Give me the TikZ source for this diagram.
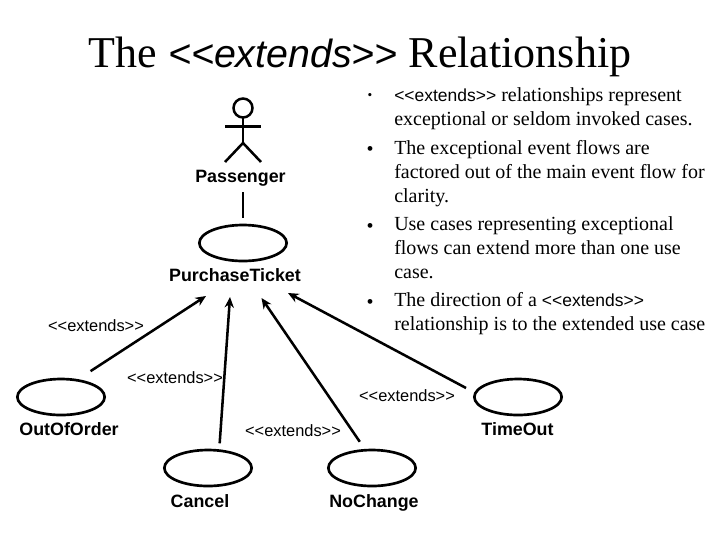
\documentclass[tikz,border=0pt]{standalone}
\usepackage{fontspec}
\setmainfont{Liberation Serif}
\setsansfont{Liberation Sans}
\usetikzlibrary{arrows.meta,shapes.geometric}
\tikzset{
  usecase/.style={draw=black,line width=2pt,ellipse,minimum width=65.5pt,minimum height=27pt,inner sep=0pt},
  casename/.style={font=\fontsize{13.4pt}{15pt}\selectfont\sffamily\bfseries,inner sep=0pt,anchor=base},
  rel/.style={font=\fontsize{12.3pt}{15pt}\selectfont\sffamily,inner sep=0pt,anchor=base},
  extendarrow/.style={line width=1.9pt,-{Stealth[length=8pt,width=7pt]}},
  stick/.style={line width=1.9pt},
  bullettext/.style={font=\fontsize{15pt}{18pt}\selectfont,inner sep=0pt,anchor=north west,align=left},
  dotmark/.style={font=\fontsize{15pt}{18pt}\selectfont,inner sep=0pt}
}
\newcommand{\extword}{<{}<{}extends>{}>}
\newcommand{\ext}{{\fontsize{13.1pt}{18pt}\selectfont\sffamily\extword}}
\begin{document}
\begin{tikzpicture}[x=0.75pt,y=-0.75pt]
\path[use as bounding box,fill=white] (0,0) rectangle (720,540);
\node[inner sep=0pt,anchor=base,font=\fontsize{33pt}{38pt}\selectfont] (title) at (360,67) {The {\sffamily\itshape\fontsize{29.5pt}{38pt}\selectfont \extword} Relationship};

% actor
\draw[stick] (243,108) circle (9.5);
\draw[stick] (243,118) -- (243,143);
\draw[stick] (225,126.5) -- (261,126.5);
\draw[stick] (225,162) -- (243,143) -- (261,162);
\node[casename] (passenger) at (240.5,182) {Passenger};
\node[usecase] (ticket) at (243,243) {};
\node[casename] (ticketname) at (235,281.5) {PurchaseTicket};
\node[usecase] (outoforder) at (61,397) {};
\node[casename] (outofordername) at (69,435) {OutOfOrder};
\node[usecase] (cancel) at (208,468) {};
\node[casename] (cancelname) at (200,507) {Cancel};
\node[usecase] (nochange) at (372,468) {};
\node[casename] (nochangename) at (374,507) {NoChange};
\node[usecase] (timeout) at (518,397) {};
\node[casename] (timeoutname) at (517.5,435) {TimeOut};

\coordinate (passfoot) at (243,192);
\coordinate (headA) at (206,296);
\coordinate (headB) at (230,297);
\coordinate (headC) at (261.5,298);
\coordinate (headD) at (288,293);
\draw[stick,shorten >=4.5pt] (passfoot) -- (ticket.north);
\draw[extendarrow,shorten <=11pt] (outoforder.46) -- (headA);
\draw[extendarrow,shorten <=4.5pt] (cancel.59) -- (headB);
\draw[extendarrow,shorten <=6.5pt] (nochange.111) -- (headC);
\draw[extendarrow,shorten <=7pt] (timeout.174) -- (headD);

\node[rel] (relA) at (96,331.5) {\extword};
\node[rel] (relB) at (175,383) {\extword};
\node[rel] (relC) at (293,436.5) {\extword};
\node[rel] (relD) at (407,401.5) {\extword};

% bullet list
\node[dotmark,font=\fontsize{10pt}{12pt}\selectfont] (dotA) at (370,96) {•};
\node[dotmark] (dotB) at (370,151) {•};
\node[dotmark] (dotC) at (370,228) {•};
\node[dotmark] (dotD) at (370,304) {•};
\node[bullettext] (textA) at (394,87.5) {\ext{} relationships represent\\exceptional or seldom invoked cases.};
\node[bullettext] (textB) at (394,140.5) {The exceptional event flows are\\factored out of the main event flow for\\clarity.};
\node[bullettext] (textC) at (394,216.5) {Use cases representing exceptional\\flows can extend more than one use\\case.};
\node[bullettext] (textD) at (394,292.5) {The direction of a \ext\\relationship is to the extended use case};
\end{tikzpicture}
\end{document}
